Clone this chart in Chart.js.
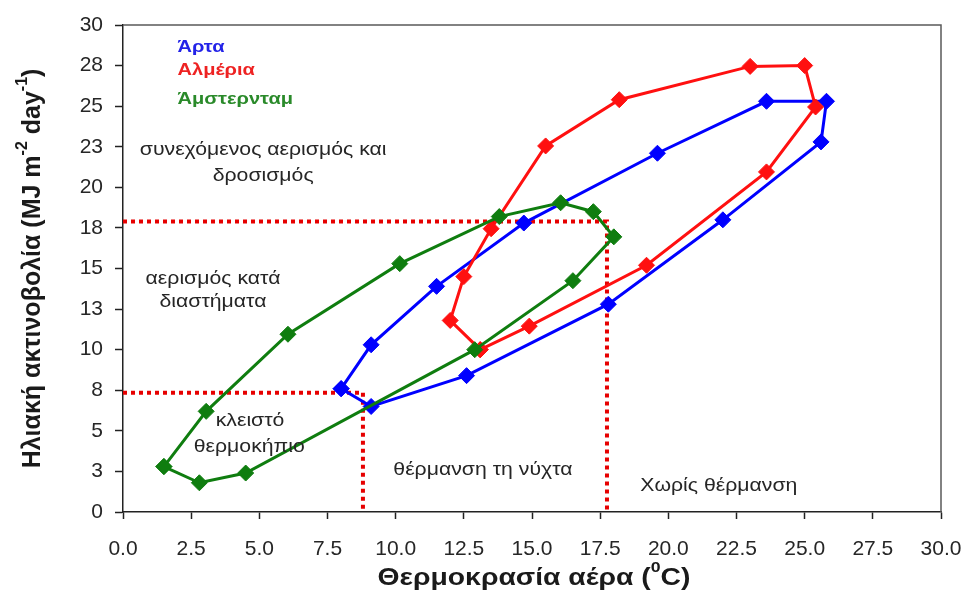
<!DOCTYPE html>
<html>
<head>
<meta charset="utf-8">
<script src="https://cdn.jsdelivr.net/npm/chart.js@4.4.1/dist/chart.umd.min.js"></script>
<style>
  body { margin: 0; background: #fff; }
  #wrap { width: 966px; height: 590px; }
</style>
</head>
<body>
<div id="wrap"><canvas id="climateChart" width="966" height="590"></canvas></div>
<script>
// monthly air temperature (°C) and solar radiation (MJ m-2 day-1)
const artaTemp = [8.0, 9.1, 11.5, 14.7, 19.6, 23.6, 25.8, 25.6, 22.0, 17.8, 12.6, 9.1];
const artaRad = [7.6, 10.3, 13.9, 17.8, 22.1, 25.3, 25.3, 22.8, 18.0, 12.8, 8.4, 6.5];

const almeriaTemp = [13.1, 12.0, 12.5, 13.5, 15.5, 18.2, 23.0, 25.0, 25.4, 23.6, 19.2, 14.9];
const almeriaRad = [10.0, 11.8, 14.5, 17.45, 22.55, 25.4, 27.45, 27.5, 24.95, 20.95, 15.2, 11.45];

const amsterdamTemp = [1.5, 2.8, 4.5, 12.9, 16.5, 18.0, 17.25, 16.05, 13.8, 10.15, 6.05, 3.05];
const amsterdamRad = [2.8, 1.8, 2.4, 10.0, 14.25, 16.95, 18.5, 19.05, 18.2, 15.3, 10.95, 6.2];

// red dotted threshold guides
const guideHighX = [0, 17.75, 17.75];
const guideHighY = [17.9, 17.9, 0];
const guideLowX = [0, 8.8, 8.8];
const guideLowY = [7.35, 7.35, 0];

const FONT = "'Liberation Sans', Arial, sans-serif";
const STRETCH = 1.18; // the original text is drawn wide

function loop(xs, ys) {
    const pts = xs.map((x, i) => ({x: x, y: ys[i]}));
    return pts.concat([pts[0]]);
}
function path(xs, ys) {
    return xs.map((x, i) => ({x: x, y: ys[i]}));
}

function series(label, xs, ys, color) {
    return {
        label: label,
        data: loop(xs, ys),
        showLine: true,
        borderColor: color,
        backgroundColor: color,
        borderWidth: 3,
        pointStyle: 'rectRot',
        pointRadius: 8,
        pointBorderWidth: 1,
        pointBorderColor: color,
        pointBackgroundColor: color,
    };
}

function guide(xs, ys) {
    return {
        data: path(xs, ys),
        showLine: true,
        borderColor: '#e60000',
        borderWidth: 4,
        borderDash: [4, 4],
        pointRadius: 0,
    };
}

// in-plot labels, positioned in data units
const notes = [
    {text: 'Άρτα', x: 2.0, y: 28.65, color: '#2323e8', bold: true, align: 'left'},
    {text: 'Αλμέρια', x: 2.0, y: 27.2, color: '#ee2222', bold: true, align: 'left'},
    {text: 'Άμστερνταμ', x: 2.0, y: 25.45, color: '#2a8a2a', bold: true, align: 'left'},
    {text: 'συνεχόμενος αερισμός και', x: 5.14, y: 22.3},
    {text: 'δροσισμός', x: 5.14, y: 20.7},
    {text: 'αερισμός κατά', x: 3.3, y: 14.36},
    {text: 'διαστήματα', x: 3.3, y: 12.94},
    {text: 'κλειστό', x: 4.66, y: 5.6},
    {text: 'θερμοκήπιο', x: 4.63, y: 4.0},
    {text: 'θέρμανση τη νύχτα', x: 13.2, y: 2.59},
    {text: 'Χωρίς θέρμανση', x: 21.85, y: 1.6},
];

function drawRuns(ctx, runs, cx, cy, size, stretch) {
    const supSize = Math.round(size * 0.62);
    let total = 0;
    runs.forEach(r => {
        ctx.font = 'bold ' + (r.sup ? supSize : size) + 'px ' + FONT;
        r.w = ctx.measureText(r.t).width;
        total += r.w;
    });
    ctx.save();
    ctx.translate(cx, cy);
    ctx.scale(stretch, 1);
    let x = -total / 2;
    runs.forEach(r => {
        ctx.font = 'bold ' + (r.sup ? supSize : size) + 'px ' + FONT;
        ctx.fillText(r.t, x, r.sup ? -size * 0.42 : 0);
        x += r.w;
    });
    ctx.restore();
}

const overlay = {
    id: 'overlay',
    afterDatasetsDraw(chart) {
        const ctx = chart.ctx;
        const xs = chart.scales.x, ys = chart.scales.y;
        ctx.save();
        ctx.textBaseline = 'middle';
        notes.forEach(n => {
            ctx.save();
            ctx.translate(xs.getPixelForValue(n.x), ys.getPixelForValue(n.y));
            ctx.scale(STRETCH, 1);
            ctx.font = (n.bold ? 'bold 17px ' : '18px ') + FONT;
            ctx.fillStyle = n.color || '#262626';
            ctx.textAlign = n.align || 'center';
            ctx.fillText(n.text, 0, 0);
            ctx.restore();
        });
        ctx.restore();
    },
    afterDraw(chart) {
        const ctx = chart.ctx;
        const a = chart.chartArea;
        ctx.save();
        // top and right frame
        ctx.strokeStyle = '#5a5a5a';
        ctx.lineWidth = 1.5;
        ctx.beginPath();
        ctx.moveTo(a.left, a.top);
        ctx.lineTo(a.right, a.top);
        ctx.lineTo(a.right, a.bottom);
        ctx.stroke();
        // axis titles with superscripts
        ctx.fillStyle = '#1a1a1a';
        ctx.textBaseline = 'middle';
        ctx.textAlign = 'left';
        drawRuns(ctx, [
            {t: 'Θερμοκρασία αέρα ('}, {t: '0', sup: true}, {t: 'C)'}
        ], (a.left + a.right) / 2 + 2, 578, 24, STRETCH);
        ctx.translate(33, (a.top + a.bottom) / 2);
        ctx.rotate(-Math.PI / 2);
        drawRuns(ctx, [
            {t: 'Ηλιακή ακτινοβολία (MJ m'}, {t: '-2', sup: true},
            {t: ' day'}, {t: '-1', sup: true}, {t: ')'}
        ], 0, 0, 25, 1);
        ctx.restore();
    }
};

const ctx = document.getElementById('climateChart').getContext('2d');
const climateChart = new Chart(ctx, {
    type: 'scatter',
    data: {
        datasets: [
            series('Άμστερνταμ', amsterdamTemp, amsterdamRad, '#0f7d0f'),
            series('Αλμέρια', almeriaTemp, almeriaRad, '#ff1010'),
            series('Άρτα', artaTemp, artaRad, '#0000ff'),
            guide(guideHighX, guideHighY),
            guide(guideLowX, guideLowY),
        ]
    },
    options: {
        responsive: false,
        animation: false,
        devicePixelRatio: 1,
        layout: { padding: { top: 25, right: 25, left: 0, bottom: 0 } },
        plugins: {
            legend: { display: false },
            tooltip: { enabled: false }
        },
        scales: {
            x: {
                type: 'linear',
                min: 0,
                max: 30,
                afterFit: s => { s.height = 78; s.paddingLeft = 0; s.paddingRight = 0; },
                grid: {
                    drawOnChartArea: false,
                    drawTicks: true,
                    tickLength: 7,
                    tickColor: '#222',
                    tickWidth: 1.5
                },
                border: { display: true, color: '#222', width: 1.5 },
                ticks: {
                    stepSize: 2.5,
                    autoSkip: false,
                    maxRotation: 0,
                    padding: 18,
                    color: '#262626',
                    font: { family: FONT, size: 21 },
                    callback: v => v.toFixed(1)
                }
            },
            y: {
                type: 'linear',
                min: 0,
                max: 30,
                afterFit: s => { s.width = 123; s.paddingTop = 0; s.paddingBottom = 0; },
                grid: {
                    drawOnChartArea: false,
                    drawTicks: true,
                    tickLength: 8,
                    tickColor: '#222',
                    tickWidth: 1.5
                },
                border: { display: true, color: '#222', width: 1.5 },
                ticks: {
                    stepSize: 2.5,
                    autoSkip: false,
                    padding: 12,
                    color: '#262626',
                    font: { family: FONT, size: 21 },
                    callback: v => String(Math.round(v))
                }
            }
        }
    },
    plugins: [overlay]
});
</script>
</body>
</html>
